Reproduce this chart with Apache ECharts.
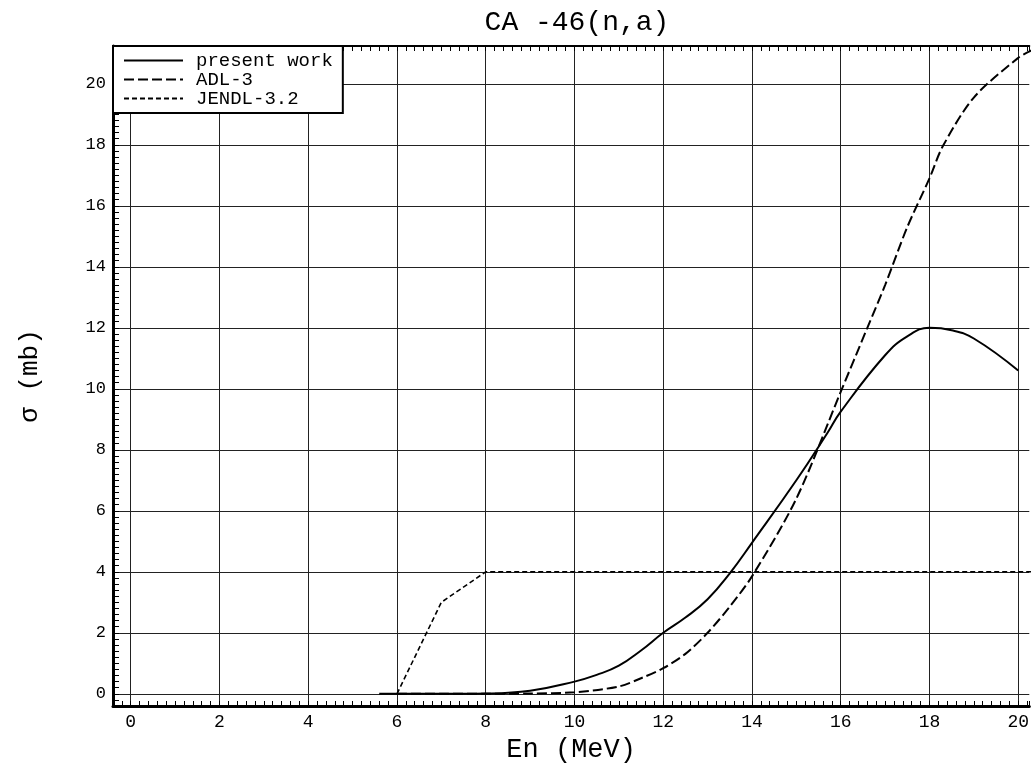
<!DOCTYPE html>
<html>
<head>
<meta charset="utf-8">
<script src="https://cdn.jsdelivr.net/npm/echarts@6/dist/echarts.min.js"></script>
<style>html,body{margin:0;padding:0;background:#fff}#c{width:1032px;height:770px}</style>
</head>
<body>
<div id="c"></div>
<script>
// ---- data ----
const xTicks = [0, 2, 4, 6, 8, 10, 12, 14, 16, 18, 20];
const yTicks = [0, 2, 4, 6, 8, 10, 12, 14, 16, 18, 20];

const pwX = [5.6, 6, 7, 8, 9, 10, 10.5, 11, 11.5, 12, 12.5, 13, 13.5, 14, 15, 15.7, 16, 17, 17.5, 18, 18.5, 19, 20];
const pwY = [0, 0, 0, 0.01, 0.1, 0.4, 0.62, 0.92, 1.42, 2.0, 2.5, 3.1, 3.95, 4.95, 7.0, 8.55, 9.25, 11.1, 11.72, 12.0, 11.92, 11.65, 10.6];

const adlX = [6, 7, 8, 9, 10, 11, 11.5, 12, 12.5, 13, 13.5, 14, 15, 16, 16.6, 17, 17.5, 18, 18.3, 19, 20, 20.3];
const adlY = [0, 0, 0, 0.01, 0.05, 0.24, 0.51, 0.84, 1.31, 2.0, 2.86, 3.85, 6.4, 9.9, 12.0, 13.4, 15.3, 16.9, 17.95, 19.55, 20.85, 21.1];

const jendlX = [6, 7, 8, 20.3];
const jendlY = [0, 3.0, 4.0, 4.0];

const seriesNames = ['present work', 'ADL-3', 'JENDL-3.2'];

const pairs = (xs, ys) => xs.map((x, i) => [x, ys[i]]);

const FONT = '"Liberation Mono", "DejaVu Sans Mono", monospace';
const X_MIN = -0.4, X_MAX = 20.25, Y_MIN = -0.4, Y_MAX = 21.24;

const chart = echarts.init(document.getElementById('c'), null, {renderer: 'canvas'});
chart.setOption({
  animation: false,
  backgroundColor: '#fff',
  title: {
    text: 'CA -46(n,a)',
    left: 572, top: 4, textAlign: 'center',
    textStyle: {fontFamily: FONT, fontSize: 28, fontWeight: 'normal', color: '#000'}
  },
  grid: {left: 113, right: 0, top: 46, bottom: 64, containLabel: false},
  legend: {
    orient: 'vertical',
    left: 113, top: 46,
    padding: [5, 10, 5, 10],
    itemGap: 0,
    itemWidth: 59, itemHeight: 19,
    backgroundColor: '#fff',
    borderColor: '#000', borderWidth: 2,
    data: seriesNames,
    itemStyle: {opacity: 0, borderWidth: 0},
    textStyle: {fontFamily: FONT, fontSize: 19, color: '#000', lineHeight: 19, padding: [0, 0, 0, 8]}
  },
  xAxis: [
    {
      type: 'value', min: X_MIN, max: X_MAX, position: 'bottom',
      name: 'En (MeV)', nameLocation: 'middle', nameGap: 29,
      nameTextStyle: {fontFamily: FONT, fontSize: 27, color: '#000'},
      axisLine: {show: true, onZero: false, lineStyle: {color: '#000', width: 3}},
      axisTick: {show: true, inside: true, length: 5, customValues: xTicks, lineStyle: {color: '#000', width: 1}},
      axisLabel: {show: true, customValues: xTicks, margin: 7, fontFamily: FONT, fontSize: 18, color: '#000'},
      splitLine: {show: true, lineStyle: {color: '#222', width: 1}}
    },
    {
      type: 'value', min: X_MIN, max: X_MAX, interval: 0.2, position: 'bottom',
      axisLine: {show: false, onZero: false},
      axisTick: {show: true, inside: true, length: 5, lineStyle: {color: '#000', width: 1}},
      axisLabel: {show: false}, splitLine: {show: false}
    },
    {
      type: 'value', min: X_MIN, max: X_MAX, interval: 0.2, position: 'top',
      axisLine: {show: true, onZero: false, lineStyle: {color: '#000', width: 2}},
      axisTick: {show: true, inside: true, length: 5, lineStyle: {color: '#000', width: 1}},
      axisLabel: {show: false}, splitLine: {show: false}
    }
  ],
  yAxis: [
    {
      type: 'value', min: Y_MIN, max: Y_MAX, position: 'left',
      name: 'σ (mb)', nameLocation: 'middle', nameGap: 70, nameRotate: 90,
      nameTextStyle: {fontFamily: FONT, fontSize: 26, color: '#000'},
      axisLine: {show: true, onZero: false, lineStyle: {color: '#000', width: 3}},
      axisTick: {show: true, inside: true, length: 6, customValues: yTicks, lineStyle: {color: '#000', width: 1}},
      axisLabel: {show: true, customValues: yTicks, margin: 7, fontFamily: FONT, fontSize: 17, color: '#000'},
      splitLine: {show: true, lineStyle: {color: '#222', width: 1}}
    },
    {
      type: 'value', min: Y_MIN, max: Y_MAX, interval: 0.2, position: 'left',
      axisLine: {show: false, onZero: false},
      axisTick: {show: true, inside: true, length: 6, lineStyle: {color: '#000', width: 1}},
      axisLabel: {show: false}, splitLine: {show: false}
    }
  ],
  series: [
    {
      name: seriesNames[0], type: 'line', xAxisIndex: 0, yAxisIndex: 0,
      data: pairs(pwX, pwY), showSymbol: false, symbol: 'none', smooth: 0.45,
      lineStyle: {color: '#000', width: 2, type: 'solid'},
      itemStyle: {color: '#000'}
    },
    {
      name: seriesNames[1], type: 'line', xAxisIndex: 0, yAxisIndex: 0,
      data: pairs(adlX, adlY), showSymbol: false, symbol: 'none', smooth: 0.3,
      lineStyle: {color: '#000', width: 2, type: [10, 4]},
      itemStyle: {color: '#000'}
    },
    {
      name: seriesNames[2], type: 'line', xAxisIndex: 0, yAxisIndex: 0,
      data: pairs(jendlX, jendlY), showSymbol: false, symbol: 'none', smooth: false,
      lineStyle: {color: '#000', width: 1.6, type: [5, 3]},
      itemStyle: {color: '#000'}
    }
  ]
});
</script>
</body>
</html>
